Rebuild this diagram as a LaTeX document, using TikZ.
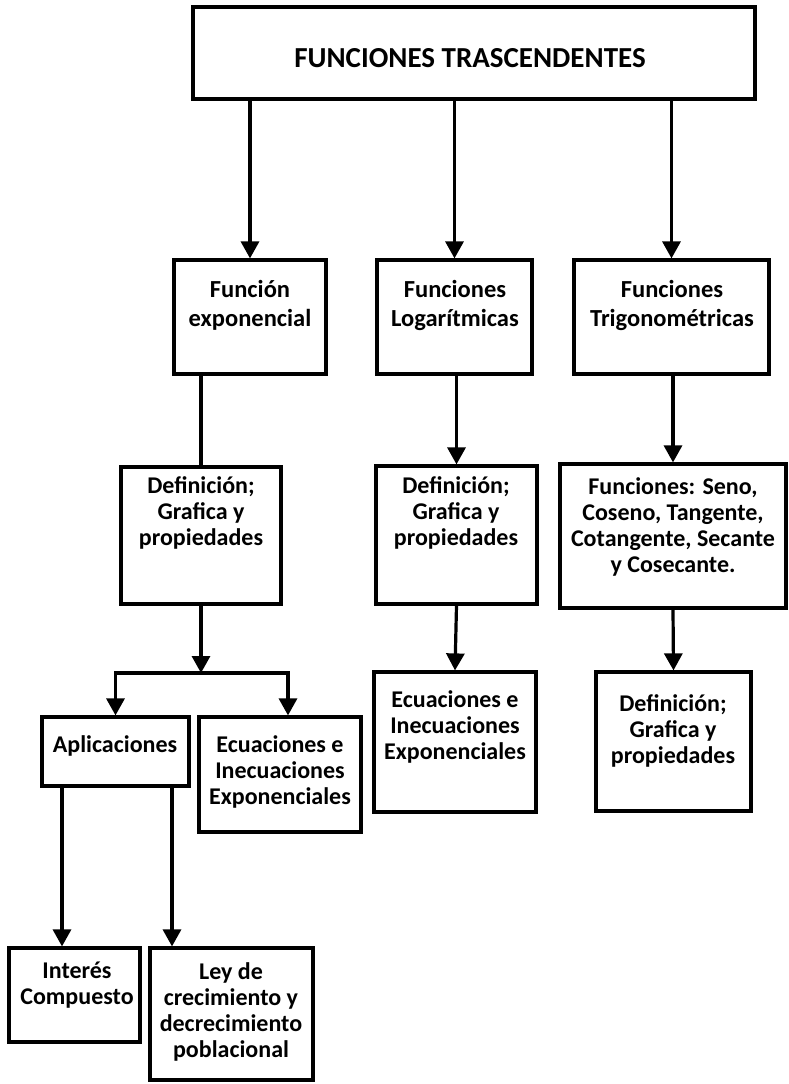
\documentclass[tikz,border=0pt]{standalone}
\usepackage{fontspec}
\setmainfont{Carlito}
\usetikzlibrary{arrows.meta,fit}
\begin{document}
\begin{tikzpicture}[x=1pt,y=-1pt,
  bx/.style={draw=black, line width=3.2pt, inner sep=0pt},
  tx/.style={font=\fontsize{24}{26}\selectfont\bfseries, align=center, inner sep=0pt},
  txw/.style={font=\fontsize{24.5}{29}\selectfont\bfseries, align=center, inner sep=0pt},
  ttl/.style={font=\fontsize{29}{32}\selectfont\bfseries, inner sep=0pt},
  ln/.style={draw=black, line width=3.2pt},
  arr/.style={ln, -{Triangle[length=17pt,width=18pt]}}]
\fill[white] (0,0) rectangle (788,1084);
\useasboundingbox (0,0) rectangle (788,1084);
% boxes
\node[bx, fit={(193,7) (755,99)}] (top) {};
\node[ttl] (ttxt) at (470,58) {FUNCIONES TRASCENDENTES};
\node[bx, fit={(174,260) (326,374)}] (r2a) {};
\node[txw] (r2atx) at (250,305) {Función\\exponencial};
\node[bx, fit={(377,260) (532,374)}] (r2b) {};
\node[txw] (r2btx) at (455,305) {Funciones\\Logarítmicas};
\node[bx, fit={(574,260) (769,374)}] (r2c) {};
\node[txw] (r2ctx) at (672,305) {Funciones\\Trigonométricas};
\node[bx, fit={(121,467) (281,604)}] (d1) {};
\node[tx] (d1tx) at (201,513) {Definición;\\Grafica y\\propiedades};
\node[bx, fit={(376,466) (537,604)}] (d2) {};
\node[tx] (d2tx) at (456,513) {Definición;\\Grafica y\\propiedades};
\node[bx, fit={(560,464) (786,608)}] (d3) {};
\node[tx] (d3tx) at (673,527) {Funciones: Seno,\\Coseno, Tangente,\\Cotangente, Secante\\y Cosecante.};
\node[bx, fit={(42,717) (189,786)}] (ap) {};
\node[tx] (aptx) at (115,746) {Aplicaciones};
\node[bx, fit={(199,717) (361,832)}] (e1) {};
\node[tx] (e1tx) at (280,772) {Ecuaciones e\\Inecuaciones\\Exponenciales};
\node[bx, fit={(374,672) (536,812)}] (e2) {};
\node[tx] (e2tx) at (455,727) {Ecuaciones e\\Inecuaciones\\Exponenciales};
\node[bx, fit={(596,672) (751,811)}] (f3) {};
\node[tx] (f3tx) at (673,731) {Definición;\\Grafica y\\propiedades};
\node[bx, fit={(9,948) (140,1042)}] (int) {};
\node[tx] (inttx) at (77,985) {Interés\\Compuesto};
\node[bx, fit={(150,948) (313,1080)}] (ley) {};
\node[tx] (leytx) at (231,1012) {Ley de\\crecimiento y\\decrecimiento\\poblacional};
% connectors
\draw[arr] (r2a.north |- top.south) -- (r2a.north);
\draw[arr] (r2b.north |- top.south) -- (r2b.north);
\draw[arr] (r2c.north |- top.south) -- (r2c.north);
\draw[ln] (d1.north |- r2a.south) -- (d1.north);
\draw[arr] (d2.north |- r2b.south) -- (d2.north);
\draw[arr] (d3.north |- r2c.south) -- (d3.north);
\coordinate (sp) at (201,673);
\coordinate (bl) at (115.5,673);
\coordinate (br) at (288,673);
\draw[arr] (d1.south) -- (sp);
\draw[ln, line cap=rect] (bl) -- (br);
\draw[arr] (bl) -- (ap.north);
\draw[arr] (br) -- (br |- e1.north);
\draw[arr] (d2.south) -- (e2.north);
\draw[arr] (d3.south) -- (f3.north);
\draw[arr] ([xshift=-53.5pt]ap.south) -- ([xshift=-53.5pt]ap.south |- int.north);
\draw[arr] ([xshift=56.5pt]ap.south) -- ([xshift=56.5pt]ap.south |- ley.north);
\end{tikzpicture}
\end{document}
